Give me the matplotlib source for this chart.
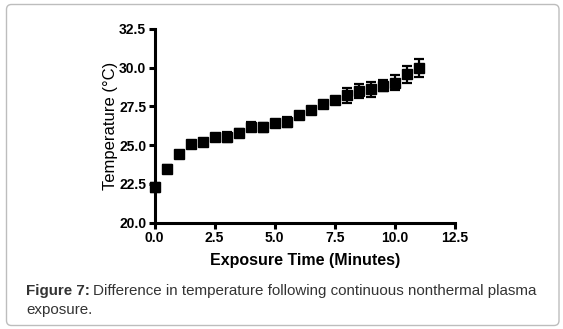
import matplotlib
matplotlib.use("Agg")
import matplotlib.pyplot as plt
from matplotlib.patches import FancyBboxPatch

time_min = [0, 0.5, 1, 1.5, 2, 2.5, 3, 3.5, 4, 4.5, 5, 5.5, 6, 6.5, 7, 7.5, 8, 8.5, 9, 9.5, 10, 10.5, 11]
temp_c = [22.27, 23.46, 24.44, 25.09, 25.22, 25.54, 25.52, 25.76, 26.19, 26.15, 26.45, 26.49,
          26.94, 27.27, 27.68, 27.91, 28.22, 28.47, 28.60, 28.84, 29.03, 29.57, 29.98]
temp_err = [0.27, 0.27, 0.15, 0.1, 0.1, 0.2, 0.3, 0.25, 0.3, 0.3, 0.2, 0.32,
            0.15, 0.15, 0.1, 0.15, 0.48, 0.45, 0.5, 0.35, 0.5, 0.55, 0.55]
x_ticks = [0.0, 2.5, 5.0, 7.5, 10.0, 12.5]
y_ticks = [20.0, 22.5, 25.0, 27.5, 30.0, 32.5]

plt.rcParams['font.family'] = ['Liberation Sans', 'DejaVu Sans']

W, H = 563, 329
fig = plt.figure(figsize=(W / 100, H / 100), dpi=100)

# rounded border
fig.patches.append(FancyBboxPatch((6.5 / 100, 3.5 / 100), (559 - 6.5) / 100, (325 - 4) / 100,
                                  boxstyle="round,pad=0,rounding_size=0.05",
                                  transform=fig.dpi_scale_trans, fill=False,
                                  edgecolor='#bdbdbd', linewidth=1.0))

ax = fig.add_axes([154.5 / W, 1 - 222.5 / H, (455 - 154.5) / W, (222.5 - 29) / H])
ax.errorbar(time_min, temp_c, yerr=temp_err, fmt='s', color='black', markersize=6.5,
            elinewidth=1.6, capsize=3.5, capthick=1.6, clip_on=False, zorder=3)

ax.set_xlim(0, 12.5)
ax.set_ylim(20, 32.5)
ax.set_xticks(x_ticks)
ax.set_yticks(y_ticks)
ax.set_xticklabels([f"{v:.1f}" for v in x_ticks], fontweight='bold', fontsize=10)
ax.set_yticklabels([f"{v:.1f}" for v in y_ticks], fontweight='bold', fontsize=10)
for s in ['top', 'right']:
    ax.spines[s].set_visible(False)
for s in ['left', 'bottom']:
    ax.spines[s].set_linewidth(2.2)
ax.tick_params(axis='both', width=2.2, length=4, pad=2, direction='out')

ax.set_xlabel("Exposure Time (Minutes)", fontweight='bold', fontsize=11.5, labelpad=6)
ax.set_ylabel("Temperature (°C)", fontsize=12, labelpad=1)

cap_fs = 10.9
bold_txt = fig.text(26 / W, 1 - 291 / H, "Figure 7:", fontsize=cap_fs, fontweight='bold',
                    color='#333333', va='center')
fig.canvas.draw()
bb = bold_txt.get_window_extent()
fig.text((bb.x1 + 3) / W, 1 - 291 / H,
         "Difference in temperature following continuous nonthermal plasma",
         fontsize=cap_fs, color='#333333', va='center')
fig.text(26 / W, 1 - 310 / H, "exposure.", fontsize=cap_fs, color='#333333', va='center')

fig.savefig("out.png", dpi=100)
